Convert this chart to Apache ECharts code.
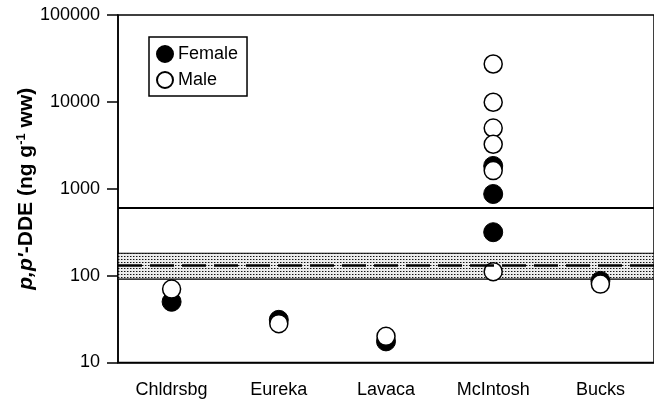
<!DOCTYPE html>
<html>
<head>
<meta charset="utf-8">
<script src="https://cdn.jsdelivr.net/npm/echarts@6/dist/echarts.min.js"></script>
<style>
  html, body { margin: 0; padding: 0; background: #fff; }
  #chart { width: 654px; height: 403px; }
</style>
</head>
<body>
<div id="chart"></div>
<script>
// Sites along the x axis
const categories = ['Chldrsbg', 'Eureka', 'Lavaca', 'McIntosh', 'Bucks'];

// Female p,p'-DDE concentrations (ng/g ww), one entry per animal
const femaleSites  = ['Chldrsbg', 'Eureka', 'Lavaca', 'McIntosh', 'McIntosh', 'McIntosh', 'Bucks'];
const femaleValues = [50, 31, 17.5, 1830, 870, 316, 87];

// Male p,p'-DDE concentrations (ng/g ww)
const maleSites  = ['Chldrsbg', 'Eureka', 'Lavaca', 'McIntosh', 'McIntosh', 'McIntosh', 'McIntosh', 'McIntosh', 'McIntosh', 'Bucks'];
const maleValues = [70, 28, 20, 27300, 9900, 5000, 3250, 1620, 111, 80];

// Y axis ticks (log scale)
const yTicks = [10, 100, 1000, 10000, 100000];

// Reference levels
const thresholdLevel = 600;
const bandLow = 91;
const bandMean = 132;
const bandHigh = 181;

const FONT = 'Liberation Sans, Arial, Helvetica, sans-serif';

// Stippled fill for the reference band
function stipple() {
  const c = document.createElement('canvas');
  c.width = 3; c.height = 3;
  const g = c.getContext('2d');
  g.fillStyle = '#ececec';
  g.fillRect(0, 0, 3, 3);
  g.fillStyle = '#111';
  g.fillRect(1, 1, 1, 1);
  g.fillStyle = '#8a8a8a';
  g.fillRect(2, 1, 1, 1);
  return c;
}

const chart = echarts.init(document.getElementById('chart'), null, { renderer: 'canvas' });

chart.setOption({
  animation: false,
  backgroundColor: '#fff',
  textStyle: { fontFamily: FONT },
  grid: {
    left: 118, top: 15, width: 539, height: 347.5,
    show: true, borderColor: '#000', borderWidth: 1.5, backgroundColor: 'transparent'
  },
  legend: {
    data: ['Female', 'Male'],
    orient: 'vertical',
    left: 149, top: 37,
    padding: [8, 9, 7, 7],
    itemGap: 8,
    itemWidth: 16, itemHeight: 16,
    itemTextGap: 9,
    borderColor: '#000', borderWidth: 1.5,
    backgroundColor: '#fff',
    textStyle: { fontSize: 18, color: '#000', fontFamily: FONT }
  },
  xAxis: {
    type: 'category',
    data: categories,
    boundaryGap: true,
    axisLine: { lineStyle: { color: '#000', width: 1.5 } },
    axisTick: { alignWithLabel: true, length: 11, lineStyle: { color: '#000', width: 1.5 } },
    axisLabel: { margin: 19, fontSize: 18, color: '#000', fontFamily: FONT },
    splitLine: { show: false }
  },
  yAxis: {
    type: 'log',
    logBase: 10,
    min: yTicks[0],
    max: yTicks[yTicks.length - 1],
    name: "{i|p,p'}{b|-DDE (ng g}{s|-1}{b| ww)}",
    nameLocation: 'middle',
    nameGap: 80,
    nameMoveOverlap: false,
    nameTextStyle: {
      rich: {
        i: { fontSize: 21, fontWeight: 'bold', fontStyle: 'italic', fontFamily: FONT, color: '#000' },
        b: { fontSize: 21, fontWeight: 'bold', fontFamily: FONT, color: '#000' },
        s: { fontSize: 13, fontWeight: 'bold', fontFamily: FONT, color: '#000', verticalAlign: 'top', padding: [0, 0, 10, 0] }
      }
    },
    axisLine: { show: true, lineStyle: { color: '#000', width: 1.5 } },
    axisTick: { show: true, length: 11, lineStyle: { color: '#000', width: 1.5 } },
    minorTick: { show: false },
    axisLabel: {
      margin: 18, fontSize: 18, color: '#000', fontFamily: FONT,
      formatter: v => String(Math.round(v))
    },
    splitLine: { show: false }
  },
  series: [
    {
      name: 'reference',
      type: 'scatter',
      data: [],
      z: 1,
      silent: true,
      markArea: {
        silent: true,
        itemStyle: {
          color: { image: stipple(), repeat: 'repeat' },
          borderColor: '#000',
          borderWidth: 1.2
        },
        data: [[{ yAxis: bandLow }, { yAxis: bandHigh }]]
      },
      markLine: {
        silent: true,
        symbol: 'none',
        label: { show: false },
        data: [
          { yAxis: bandMean, lineStyle: { color: '#000', width: 2.5, type: [24, 8] } },
          { yAxis: thresholdLevel, lineStyle: { color: '#000', width: 2.2, type: 'solid' } }
        ]
      }
    },
    {
      name: 'Female',
      type: 'scatter',
      z: 3,
      symbol: 'circle',
      symbolSize: 19,
      itemStyle: { color: '#000', borderColor: '#000', borderWidth: 1, opacity: 1 },
      data: femaleSites.map((s, i) => [s, femaleValues[i]])
    },
    {
      name: 'Male',
      type: 'scatter',
      z: 4,
      symbol: 'circle',
      symbolSize: 18,
      itemStyle: { color: '#fff', borderColor: '#000', borderWidth: 1.5, opacity: 1 },
      data: maleSites.map((s, i) => [s, maleValues[i]])
    }
  ]
});
</script>
</body>
</html>
